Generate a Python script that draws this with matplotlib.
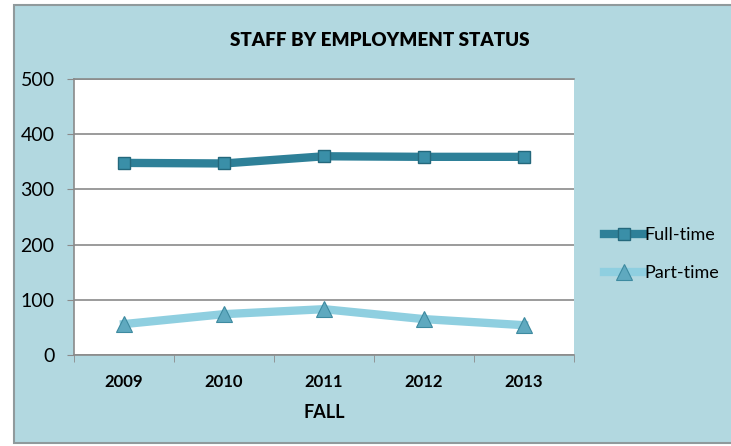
import matplotlib.pyplot as plt
from matplotlib.patches import Rectangle

years = ['2009', '2010', '2011', '2012', '2013']
full_time = [348, 347, 360, 359, 359]
part_time = [56, 74, 83, 65, 54]

plt.rcParams['font.family'] = ['Liberation Sans Narrow', 'Lato', 'DejaVu Sans']

bg = '#b2d8e0'
dark = '#2e8098'
light = '#8fcfe0'

fig = plt.figure(figsize=(7.31, 4.46), dpi=100)
fig.patch.set_facecolor('white')

# chart area box
box = Rectangle((14 / 731, 3 / 446), 1.0, 438 / 446, transform=fig.transFigure,
                facecolor=bg, edgecolor='#909a9c', linewidth=1.5, zorder=-1)
fig.add_artist(box)

ax = fig.add_axes([74 / 731, 91 / 446, 500 / 731, 276 / 446])
ax.set_facecolor('white')

x = range(len(years))
ax.plot(x, full_time, color=dark, linewidth=6, marker='s', markersize=9,
        markerfacecolor='#3a8fa8', markeredgecolor='#24687c', markeredgewidth=1, label='Full-time', zorder=3)
ax.plot(x, part_time, color=light, linewidth=6, marker='^', markersize=11,
        markerfacecolor='#5fa9bf', markeredgecolor='#3d8aa0', markeredgewidth=0.8, label='Part-time', zorder=3)

ax.set_xlim(-0.5, 4.5)
ax.set_ylim(0, 500)
ax.set_yticks([0, 100, 200, 300, 400, 500])
ax.yaxis.grid(True, color='#8a8a8a', linewidth=1.2)
ax.set_axisbelow(True)

ax.set_xticks(list(x))
ax.set_xticklabels(years, fontsize=12, fontweight='bold')
ax.set_xticks([i - 0.5 for i in range(len(years) + 1)], minor=True)
ax.tick_params(axis='x', which='major', length=0, pad=14)
ax.tick_params(axis='x', which='minor', length=5, color='#8a8a8a', direction='out')
ax.tick_params(axis='y', length=5, color='#8a8a8a', labelsize=14, pad=9)

for s in ['left', 'bottom', 'top']:
    ax.spines[s].set_color('#8a8a8a')
    ax.spines[s].set_linewidth(1.2)
ax.spines['right'].set_visible(False)

ax.set_xlabel('FALL', fontsize=13, fontweight='bold', labelpad=10)
fig.text(380 / 731, 1 - 40 / 446, 'STAFF BY EMPLOYMENT STATUS', fontsize=13.5, fontweight='heavy',
         ha='center', va='center')

leg = fig.legend(loc='center left', bbox_to_anchor=(588 / 731, 1 - 254 / 446), frameon=False,
                 fontsize=13, handlelength=2.2, handletextpad=0.0, labelspacing=1.2)

fig.savefig('out.png', dpi=100, facecolor='white')
